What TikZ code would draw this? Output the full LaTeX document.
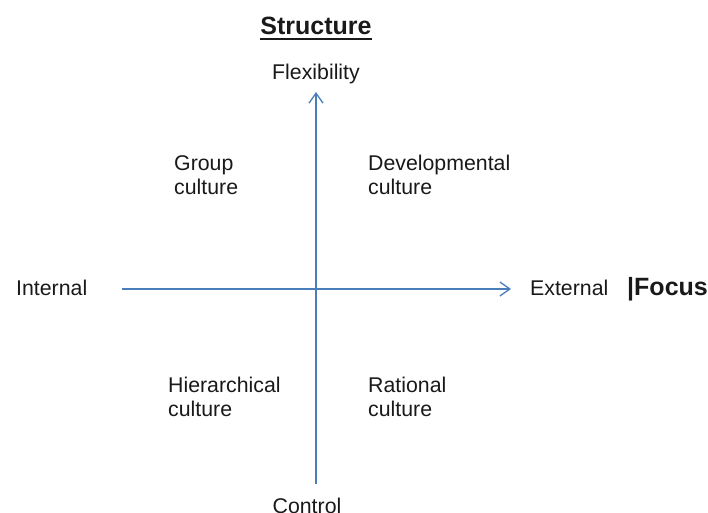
\documentclass[tikz,border=0pt]{standalone}
\usepackage{fontspec}
\setmainfont{Liberation Sans}
\usetikzlibrary{arrows.meta}
\definecolor{axisblue}{HTML}{4A7EBB}
\begin{document}
\begin{tikzpicture}[x=1pt,y=1pt,
  lbl/.style={inner sep=0pt,font=\fontsize{21.3}{24}\selectfont,align=left,text=black!90},
  ttl/.style={inner sep=0pt,font=\fontsize{25}{28}\selectfont\bfseries,text=black!90},
  axis/.style={draw=axisblue,line width=1.5pt,-{Straight Barb[length=10pt,width=14pt,line width=1.3pt]}}]
\useasboundingbox (0,0) rectangle (708,512);
% axes
\coordinate (vb) at (316,28);
\coordinate (vt) at (316,420);
\coordinate (hl) at (122,223);
\coordinate (hr) at (511,223);
\draw[axis] (vb) -- (vt);
\draw[axis] (hl) -- (hr);
% titles
\node[ttl,anchor=base] (st) at (316,477) {Structure};
\draw[line width=2.2pt,black!90] ([yshift=-4pt]st.base west) -- ([yshift=-4pt]st.base east);
\node[lbl,anchor=base] (flex) at (316,432) {Flexibility};
\node[lbl,anchor=base] (ctrl) at (307,-1) {Control};
\node[lbl,anchor=base west] (int) at (16,217) {Internal};
\node[lbl,anchor=base west] (ext) at (530,217) {External};
\node[ttl,anchor=base west] (foc) at (627,217) {|Focus};
% quadrants
\node[lbl,anchor=north west] (grp) at (174,357) {Group\\culture};
\node[lbl,anchor=north west] (dev) at (368,357) {Developmental\\culture};
\node[lbl,anchor=north west] (hier) at (168,135) {Hierarchical\\culture};
\node[lbl,anchor=north west] (rat) at (368,135) {Rational\\culture};
\end{tikzpicture}
\end{document}
